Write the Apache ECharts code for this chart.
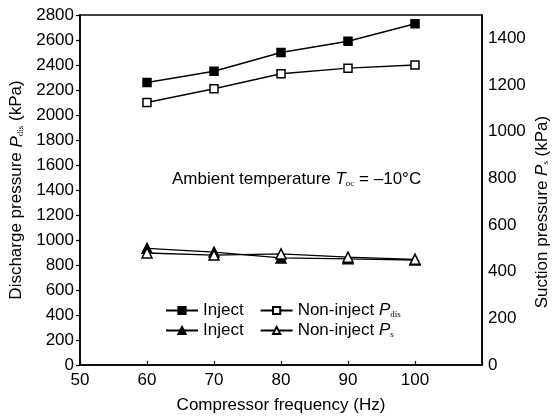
<!DOCTYPE html>
<html>
<head>
<meta charset="utf-8">
<script src="https://cdn.jsdelivr.net/npm/echarts@6/dist/echarts.min.js"></script>
<style>html,body{margin:0;padding:0;background:#fff}#c{width:558px;height:419px}</style>
</head>
<body>
<div id="c"></div>
<script>
const frequencies = [60, 70, 80, 90, 100];
const injectPdis = [2260, 2350, 2500, 2590, 2730];
const nonInjectPdis = [2100, 2210, 2330, 2375, 2400];
const injectPs = [500, 484, 459, 455, 450];
const nonInjectPs = [480, 471, 476, 462, 453];
const xTicks = [50, 60, 70, 80, 90, 100];
const leftTicksMax = 2800;
const rightTicksMax = 1500;

const FONT = 'Liberation Sans, Arial, sans-serif';
const rich = {
  n: {fontFamily: FONT, fontSize: 17, color: '#000'},
  i: {fontFamily: FONT, fontSize: 17, fontStyle: 'italic', color: '#000'},
  s: {fontFamily: 'Liberation Serif, serif', fontSize: 9, color: '#000', verticalAlign: 'bottom', padding: [8, 0, 0, 0]}
};
const pairs = (xs, ys) => xs.map((x, k) => [x, ys[k]]);
const lineSeries = (name, data, yIdx, symbol, filled) => ({
  name, type: 'line', yAxisIndex: yIdx, data,
  symbol, symbolSize: symbol === 'rect' ? 8 : 10,
  lineStyle: {color: '#000', width: 1.3},
  itemStyle: {color: filled ? '#000' : '#fff', borderColor: '#000', borderWidth: 1.5},
  emphasis: {disabled: true}, animation: false
});
const legendBase = {
  show: true, left: 160, orient: 'horizontal', itemWidth: 32, itemHeight: 9, itemGap: 16,
  textStyle: {fontFamily: FONT, fontSize: 17, color: '#000', rich},
  formatter: name => ({
    'Inject Pdis': '{n|Inject}', 'Non-inject Pdis': '{n|Non-inject }{i|P}{s|dis}',
    'Inject Ps': '{n|Inject}', 'Non-inject Ps': '{n|Non-inject }{i|P}{s|s}'
  })[name],
  selectedMode: false
};
const chart = echarts.init(document.getElementById('c'), null, {renderer: 'canvas'});
chart.setOption({
  backgroundColor: '#fff',
  animation: false,
  grid: {left: 80, right: 76, top: 15, bottom: 54, show: true, borderColor: '#000', borderWidth: 1.5},
  legend: [
    Object.assign({}, legendBase, {top: 297, data: ['Inject Pdis', 'Non-inject Pdis']}),
    Object.assign({}, legendBase, {top: 317, data: ['Inject Ps', 'Non-inject Ps']})
  ],
  xAxis: {
    type: 'value', min: 50, max: 110, interval: 10,
    name: 'Compressor frequency (Hz)', nameLocation: 'middle', nameGap: 32,
    nameTextStyle: {fontFamily: FONT, fontSize: 17, color: '#000'},
    axisLine: {lineStyle: {color: '#000', width: 1.5}},
    axisTick: {inside: true, length: 4, lineStyle: {color: '#000', width: 1.2}},
    axisLabel: {fontFamily: FONT, fontSize: 17, color: '#000', margin: 7,
      formatter: v => xTicks.includes(v) ? String(v) : ''},
    splitLine: {show: false}
  },
  yAxis: [
    {
      type: 'value', position: 'left', min: 0, max: leftTicksMax, interval: 200,
      name: '{n|Discharge pressure }{i|P}{s|dis}{n| (kPa)}', nameLocation: 'middle', nameGap: 53, nameRotate: 90,
      nameTextStyle: {rich},
      axisLine: {show: true, lineStyle: {color: '#000', width: 1.5}},
      axisTick: {show: true, length: 4, lineStyle: {color: '#000', width: 1.2}},
      axisLabel: {fontFamily: FONT, fontSize: 17, color: '#000', margin: 6, formatter: v => String(v)},
      splitLine: {show: false}
    },
    {
      type: 'value', position: 'right', min: 0, max: rightTicksMax, interval: 200,
      axisLine: {show: true, lineStyle: {color: '#000', width: 1.5}},
      axisTick: {show: false},
      axisLabel: {fontFamily: FONT, fontSize: 17, color: '#000', margin: 6, showMaxLabel: false, formatter: v => String(v)},
      splitLine: {show: false}
    }
  ],
  graphic: [{
    type: 'text', left: 172, top: 171,
    style: {
      text: '{n|Ambient temperature }{i|T}{s|oc}{n| = \u201310\u00b0C}',
      rich
    }
  }, {
    type: 'text', x: 542, y: 212, rotation: Math.PI / 2,
    style: {
      text: '{n|Suction pressure }{i|P}{s|s}{n| (kPa)}',
      rich, align: 'center', verticalAlign: 'middle'
    }
  }],
  series: [
    lineSeries('Inject Pdis', pairs(frequencies, injectPdis), 0, 'rect', true),
    lineSeries('Non-inject Pdis', pairs(frequencies, nonInjectPdis), 0, 'rect', false),
    lineSeries('Inject Ps', pairs(frequencies, injectPs), 1, 'triangle', true),
    lineSeries('Non-inject Ps', pairs(frequencies, nonInjectPs), 1, 'triangle', false)
  ]
});
</script>
</body>
</html>
